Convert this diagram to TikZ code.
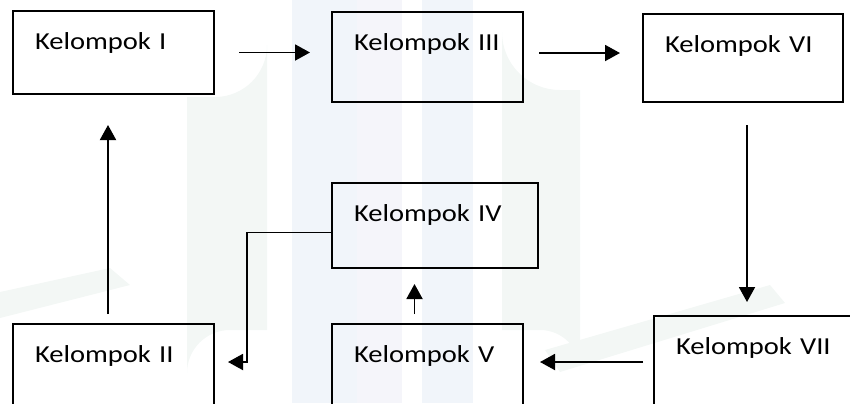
\documentclass[tikz,border=0pt]{standalone}
\usepackage{fontspec}
\newfontfamily\kfont[FakeStretch=1.17]{Carlito}
\usetikzlibrary{arrows.meta, calc}

\definecolor{wmgreen}{HTML}{F3F7F5}
\definecolor{wmblue}{HTML}{F1F5FA}
\definecolor{wmlilac}{HTML}{F5F5FA}

\tikzset{
  kotak/.style={draw, line width=1pt, anchor=north west, align=left,
    inner xsep=11pt, inner ysep=0pt, text height=19pt,
    font=\kfont\fontsize{12.2pt}{14pt}\selectfont},
  panah/.style={-{Triangle[length=7.5pt,width=8pt]}, line width=0.95pt}
}

\begin{document}
\begin{tikzpicture}[x=0.5pt, y=-0.5pt]
  \useasboundingbox (0,0) rectangle (850,403);
  \clip (0,0) rectangle (850,403);

  % faint logo in the back
  \fill[wmgreen] (187,300) -- (187,97) -- (215,97) arc[start angle=90, end angle=0, radius=52] -- (267,330) -- (230,330) arc[start angle=270, end angle=180, radius=43] -- cycle;
  \fill[wmgreen] (580,300) -- (580,90) -- (560,90) arc[start angle=90, end angle=180, radius=58] -- (502,330) -- (540,330) arc[start angle=270, end angle=360, radius=40] -- cycle;
  \fill[wmblue] (292,0) rectangle (357,403);
  \fill[wmlilac] (357,0) rectangle (402,403);
  \fill[wmblue] (422,0) rectangle (473,403);
  \fill[wmgreen] (0,292) -- (110,268) -- (130,285) -- (0,318) -- cycle;
  \fill[wmgreen] (545,350) -- (770,285) -- (785,303) -- (560,372) -- cycle;

  \node[kotak, text width=78.5pt, text depth=22.5pt] (k1) at (12,10) {Kelompok I};
  \node[kotak, text width=73.5pt, text depth=26pt] (k3) at (331,11) {Kelompok III};
  \node[kotak, text width=78pt, text depth=25pt] (k6) at (642,13) {Kelompok VI};
  \node[kotak, text width=81pt, text depth=23.5pt] (k4) at (331,182) {Kelompok IV};
  \node[kotak, text width=78.5pt, text depth=45pt] (k2) at (12,323) {Kelompok II};
  \node[kotak, text width=73.5pt, text depth=45pt] (k5) at (331,323) {Kelompok V};
  \node[kotak, text width=78pt, text depth=45pt] (k7) at (653,315) {Kelompok VII};

  \draw[panah, shorten <=12pt, shorten >=10.5pt] (k1.east) -- (k1.east -| k3.west);
  \draw[panah, shorten <=7.5pt, shorten >=11pt] ([yshift=2pt]k3.east) -- ([yshift=2pt]k3.east -| k6.west);
  \draw[panah, shorten <=11pt, shorten >=6.5pt] ([xshift=2pt]k6.south) -- ([xshift=2pt]k6.south |- k7.north);
  \draw[panah, shorten <=5pt, shorten >=8pt] (k5.base east -| k7.west) -- (k5.base east);
  \draw[panah, shorten <=4.5pt, shorten >=7.5pt] ([xshift=-6.5pt]k5.north) -- ([xshift=-6.5pt]k5.north |- k4.south);
  \draw[panah, shorten >=6.5pt] ([yshift=-3.5pt]k4.west) -- ++(-84,0) |- (k2.base east);
  \draw[panah, shorten <=4.5pt, shorten >=15pt] ([xshift=-2.75pt]k2.north) -- ([xshift=-2.75pt]k2.north |- k1.south);
\end{tikzpicture}
\end{document}
